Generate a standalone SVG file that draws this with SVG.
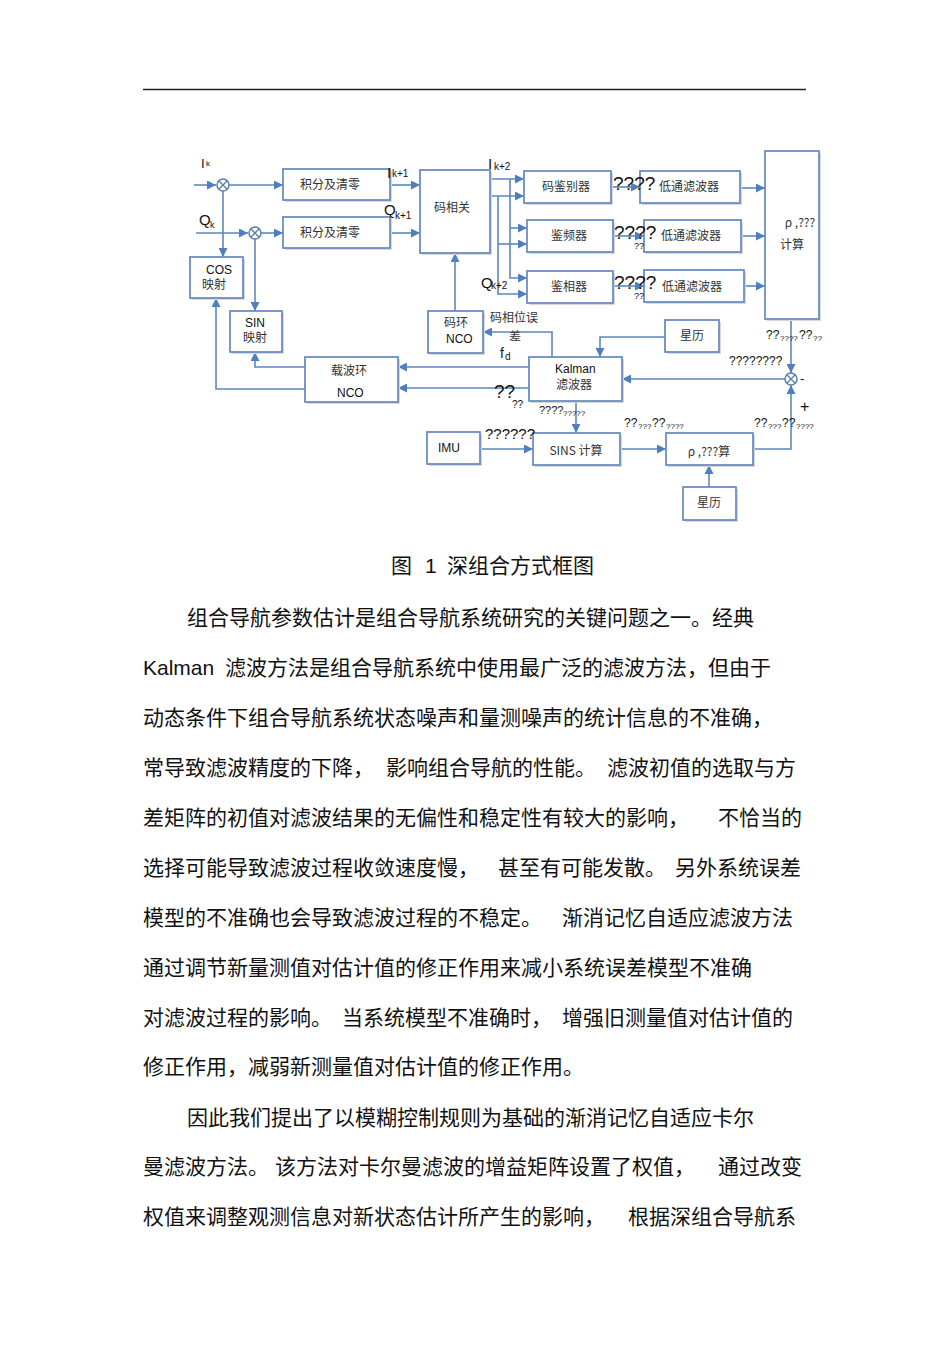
<svg xmlns="http://www.w3.org/2000/svg" width="950" height="1345" viewBox="0 0 950 1345">
<style>
.box{fill:#fff;stroke:#6c8ec4;stroke-width:1.8}
.sh{fill:#d8d8d8;stroke:none}
.ln{fill:none;stroke:#5d87c0;stroke-width:1.6}
.t{font-family:"Noto Sans CJK SC","Liberation Sans",sans-serif;font-size:12px;fill:#333;text-anchor:middle}
.l{font-family:"Liberation Sans","Noto Sans CJK SC",sans-serif;fill:#111}
.q{font-family:"Liberation Sans",sans-serif;fill:#111}
.b{font-family:"Noto Sans CJK SC",sans-serif;font-size:21px;fill:#111}
.bl{font-family:"Liberation Sans","Noto Sans CJK SC",sans-serif;font-size:21px;fill:#111}
</style>
<defs>
<marker id="ar" viewBox="0 0 10 10" refX="10" refY="5" markerWidth="9" markerHeight="9" markerUnits="userSpaceOnUse" orient="auto">
<path d="M0,0 L10,5 L0,10 z" fill="#4f7fbf"/>
</marker>
</defs>
<line x1="143" y1="89.5" x2="806" y2="89.5" stroke="#222" stroke-width="1.3"/>

<g id="connectors">
<path class="ln" d="M194,185 H216" marker-end="url(#ar)"/>
<path class="ln" d="M229,185 H283" marker-end="url(#ar)"/>
<path class="ln" d="M223,191 V257" marker-end="url(#ar)"/>
<path class="ln" d="M196,233 H248" marker-end="url(#ar)"/>
<path class="ln" d="M261,233 H283" marker-end="url(#ar)"/>
<path class="ln" d="M255,239 V311" marker-end="url(#ar)"/>
<path class="ln" d="M390,185 H420" marker-end="url(#ar)"/>
<path class="ln" d="M390,233 H420" marker-end="url(#ar)"/>
<path class="ln" d="M490,179 H524" marker-end="url(#ar)"/>
<path class="ln" d="M490,196 H524" marker-end="url(#ar)"/>
<path class="ln" d="M510,179 V278 H527" marker-end="url(#ar)"/>
<path class="ln" d="M510,228 H527" marker-end="url(#ar)"/>
<path class="ln" d="M498,196 V294 H527" marker-end="url(#ar)"/>
<path class="ln" d="M498,244 H527" marker-end="url(#ar)"/>
<path class="ln" d="M611,187 H640" marker-end="url(#ar)"/>
<path class="ln" d="M613,236 H644" marker-end="url(#ar)"/>
<path class="ln" d="M613,286 H644" marker-end="url(#ar)"/>
<path class="ln" d="M740,188 H765" marker-end="url(#ar)"/>
<path class="ln" d="M741,236 H765" marker-end="url(#ar)"/>
<path class="ln" d="M744,286 H765" marker-end="url(#ar)"/>
<path class="ln" d="M791,319 V373" marker-end="url(#ar)"/>
<path class="ln" d="M665,337 H600 V357" marker-end="url(#ar)"/>
<path class="ln" d="M785,379 H622" marker-end="url(#ar)"/>
<path class="ln" d="M753,449 H791 V385" marker-end="url(#ar)"/>
<path class="ln" d="M552,357 V332 H483" marker-end="url(#ar)"/>
<path class="ln" d="M529,367 H398" marker-end="url(#ar)"/>
<path class="ln" d="M529,388 H398" marker-end="url(#ar)"/>
<path class="ln" d="M455,311 V253" marker-end="url(#ar)"/>
<path class="ln" d="M305,367 H255 V352" marker-end="url(#ar)"/>
<path class="ln" d="M305,389 H216 V298" marker-end="url(#ar)"/>
<path class="ln" d="M576,401 V433" marker-end="url(#ar)"/>
<path class="ln" d="M480,449 H533" marker-end="url(#ar)"/>
<path class="ln" d="M620,449 H666" marker-end="url(#ar)"/>
<path class="ln" d="M709,487 V465" marker-end="url(#ar)"/>
</g>

<g id="mul1"><circle cx="223" cy="185" r="6" fill="#fff" stroke="#5d7fa8" stroke-width="1.5"/><path d="M218.8,180.8 L227.2,189.2 M227.2,180.8 L218.8,189.2" stroke="#5d7fa8" stroke-width="1.3"/></g>
<g id="mul2"><circle cx="255" cy="233" r="6" fill="#fff" stroke="#5d7fa8" stroke-width="1.5"/><path d="M250.8,228.8 L259.2,237.2 M259.2,228.8 L250.8,237.2" stroke="#5d7fa8" stroke-width="1.3"/></g>
<g id="sum"><circle cx="791" cy="379" r="6" fill="#fff" stroke="#5d7fa8" stroke-width="1.5"/><path d="M786.8,374.8 L795.2,383.2 M795.2,374.8 L786.8,383.2" stroke="#5d7fa8" stroke-width="1.3"/></g>

<g id="int1"><rect class="sh" x="285" y="171" width="107" height="31"/><rect class="box" x="283" y="169" width="107" height="31"/><text class="t" x="330" y="189">积分及清零</text></g>
<g id="int2"><rect class="sh" x="285" y="219" width="107" height="31"/><rect class="box" x="283" y="217" width="107" height="31"/><text class="t" x="330" y="237">积分及清零</text></g>
<g id="corr"><rect class="sh" x="422" y="172" width="70" height="83"/><rect class="box" x="420" y="170" width="70" height="83"/><text class="t" x="452" y="212">码相关</text></g>
<g id="codedisc"><rect class="sh" x="526" y="173" width="87" height="32"/><rect class="box" x="524" y="171" width="87" height="32"/><text class="t" x="566" y="191">码鉴别器</text></g>
<g id="freqdisc"><rect class="sh" x="529" y="222" width="86" height="32"/><rect class="box" x="527" y="220" width="86" height="32"/><text class="t" x="569" y="240">鉴频器</text></g>
<g id="phasedisc"><rect class="sh" x="529" y="273" width="86" height="32"/><rect class="box" x="527" y="271" width="86" height="32"/><text class="t" x="569" y="291">鉴相器</text></g>
<g id="lpf1"><rect class="sh" x="642" y="173" width="100" height="32"/><rect class="box" x="640" y="171" width="100" height="32"/><text class="t" x="689" y="191">低通滤波器</text></g>
<g id="lpf2"><rect class="sh" x="646" y="222" width="97" height="32"/><rect class="box" x="644" y="220" width="97" height="32"/><text class="t" x="691" y="240">低通滤波器</text></g>
<g id="lpf3"><rect class="sh" x="646" y="272" width="100" height="32"/><rect class="box" x="644" y="270" width="100" height="32"/><text class="t" x="692" y="291">低通滤波器</text></g>
<g id="rhocalc"><rect class="sh" x="767" y="153" width="54" height="168"/><rect class="box" x="765" y="151" width="54" height="168"/><text class="t" x="800" y="227">ρ ,???</text><text class="t" x="792" y="249">计算</text></g>
<g id="cosmap"><rect class="sh" x="192" y="259" width="53" height="41"/><rect class="box" x="190" y="257" width="53" height="41"/><text class="l" x="206" y="274" font-size="12">COS</text><text class="t" x="214" y="289">映射</text></g>
<g id="sinmap"><rect class="sh" x="232" y="313" width="52" height="41"/><rect class="box" x="230" y="311" width="52" height="41"/><text class="l" x="245" y="327" font-size="12">SIN</text><text class="t" x="255" y="342">映射</text></g>
<g id="codenco"><rect class="sh" x="430" y="313" width="55" height="42"/><rect class="box" x="428" y="311" width="55" height="42"/><text class="t" x="456" y="327">码环</text><text class="l" x="446" y="343" font-size="12">NCO</text></g>
<g id="carrnco"><rect class="sh" x="307" y="359" width="93" height="45"/><rect class="box" x="305" y="357" width="93" height="45"/><text class="t" x="349" y="375">载波环</text><text class="l" x="337" y="397" font-size="12">NCO</text></g>
<g id="eph1"><rect class="sh" x="667" y="322" width="54" height="32"/><rect class="box" x="665" y="320" width="54" height="32"/><text class="t" x="692" y="340">星历</text></g>
<g id="kalman"><rect class="sh" x="531" y="359" width="93" height="44"/><rect class="box" x="529" y="357" width="93" height="44"/><text class="l" x="555" y="373" font-size="12">Kalman</text><text class="t" x="574" y="389">滤波器</text></g>
<g id="imu"><rect class="sh" x="429" y="434" width="53" height="32"/><rect class="box" x="427" y="432" width="53" height="32"/><text class="l" x="438" y="452" font-size="12">IMU</text></g>
<g id="sins"><rect class="sh" x="535" y="435" width="87" height="32"/><rect class="box" x="533" y="433" width="87" height="32"/><text class="t" x="576" y="455">SINS 计算</text></g>
<g id="rhocalc2"><rect class="sh" x="668" y="435" width="87" height="32"/><rect class="box" x="666" y="433" width="87" height="32"/><text class="t" x="709" y="456">ρ ,???算</text></g>
<g id="eph2"><rect class="sh" x="685" y="489" width="53" height="33"/><rect class="box" x="683" y="487" width="53" height="33"/><text class="t" x="709" y="507">星历</text></g>

<g id="labels">
<text class="l" x="201" y="168" font-size="13">I</text><text class="l" x="206" y="166" font-size="8">k</text>
<text class="l" x="387" y="178" font-size="15">I</text><text class="l" x="392" y="177" font-size="10">k+1</text>
<text class="l" x="384" y="215" font-size="15">Q</text><text class="l" x="395" y="219" font-size="10">k+1</text>
<text class="l" x="199" y="225" font-size="15">Q</text><text class="l" x="210" y="228" font-size="9">k</text>
<text class="l" x="488" y="169" font-size="15">I</text><text class="l" x="494" y="170" font-size="10">k+2</text>
<text class="l" x="481" y="288" font-size="15">Q</text><text class="l" x="491" y="289" font-size="10">k+2</text>
<text class="t" x="514" y="322">码相位误</text><text class="t" x="515" y="341">差</text>
<text class="l" x="500" y="358" font-size="14">f</text><text class="l" x="505" y="360" font-size="10">d</text>
<text class="q" x="613" y="190" font-size="19">????</text>
<text class="q" x="614" y="239" font-size="19">????</text><text class="q" x="634" y="249" font-size="9">??</text>
<text class="q" x="614" y="289" font-size="19">????</text><text class="q" x="634" y="299" font-size="9">??</text>
<text class="q" x="766" y="339" font-size="12">??</text><text class="q" x="780" y="341" font-size="8">????</text><text class="q" x="799" y="339" font-size="12">??</text><text class="q" x="813" y="341" font-size="8">??</text>
<text class="q" x="729" y="365" font-size="12">????????</text>
<text class="l" x="800" y="383" font-size="13">-</text>
<text class="l" x="800" y="412" font-size="16">+</text>
<text class="q" x="494" y="398" font-size="19">??</text><text class="q" x="512" y="408" font-size="10">??</text>
<text class="q" x="539" y="414" font-size="11">????</text><text class="q" x="563" y="416" font-size="8">?????</text>
<text class="q" x="485" y="439" font-size="15">??????</text>
<text class="q" x="624" y="427" font-size="12">??</text><text class="q" x="638" y="429" font-size="8">???</text><text class="q" x="652" y="427" font-size="12">??</text><text class="q" x="666" y="429" font-size="8">????</text>
<text class="q" x="754" y="427" font-size="12">??</text><text class="q" x="768" y="429" font-size="8">???</text><text class="q" x="782" y="427" font-size="12">??</text><text class="q" x="796" y="429" font-size="8">????</text>
</g>

<g id="caption">
<text class="b" x="391" y="573" font-size="20">图</text>
<text class="bl" x="425" y="573" font-size="20">1</text>
<text class="b" x="447" y="573" font-size="20">深组合方式框图</text>
</g>

<g id="body">
<text class="b" x="187" y="625">组合导航参数估计是组合导航系统研究的关键问题之一。经典</text>
<text class="bl" x="143" y="675">Kalman</text><text class="b" x="225" y="675">滤波方法是组合导航系统中使用最广泛的滤波方法，但由于</text>
<text class="b" x="143" y="725">动态条件下组合导航系统状态噪声和量测噪声的统计信息的不准确，</text>
<text class="b" x="143" y="775">常导致滤波精度的下降，</text><text class="b" x="386" y="775">影响组合导航的性能。</text><text class="b" x="607" y="775">滤波初值的选取与方</text>
<text class="b" x="143" y="825">差矩阵的初值对滤波结果的无偏性和稳定性有较大的影响，</text><text class="b" x="718" y="825">不恰当的</text>
<text class="b" x="143" y="875">选择可能导致滤波过程收敛速度慢，</text><text class="b" x="498" y="875">甚至有可能发散。</text><text class="b" x="675" y="875">另外系统误差</text>
<text class="b" x="143" y="925">模型的不准确也会导致滤波过程的不稳定。</text><text class="b" x="562" y="925">渐消记忆自适应滤波方法</text>
<text class="b" x="143" y="975">通过调节新量测值对估计值的修正作用来减小系统误差模型不准确</text>
<text class="b" x="143" y="1025">对滤波过程的影响。</text><text class="b" x="342" y="1025">当系统模型不准确时，</text><text class="b" x="562" y="1025">增强旧测量值对估计值的</text>
<text class="b" x="143" y="1074">修正作用，减弱新测量值对估计值的修正作用。</text>
<text class="b" x="187" y="1125">因此我们提出了以模糊控制规则为基础的渐消记忆自适应卡尔</text>
<text class="b" x="143" y="1174">曼滤波方法。</text><text class="b" x="275" y="1174">该方法对卡尔曼滤波的增益矩阵设置了权值，</text><text class="b" x="718" y="1174">通过改变</text>
<text class="b" x="143" y="1224">权值来调整观测信息对新状态估计所产生的影响，</text><text class="b" x="628" y="1224">根据深组合导航系</text>
</g>
</svg>
